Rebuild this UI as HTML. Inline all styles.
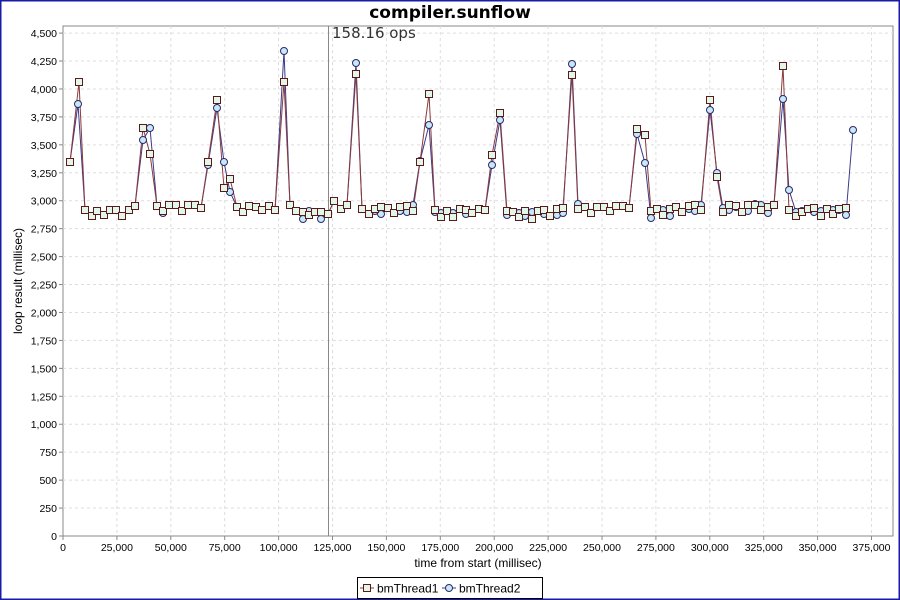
<!DOCTYPE html>
<html><head><meta charset="utf-8"><style>
html,body{margin:0;padding:0;background:#fff}
svg{display:block;font-family:"Liberation Sans",sans-serif}
</style></head><body>
<svg id="c" width="900" height="600" viewBox="0 0 900 600" xmlns="http://www.w3.org/2000/svg">
<rect x="0.5" y="0.5" width="899" height="599" fill="#fff" stroke="#1a1aa8" stroke-width="2"/>
<text x="450" y="18" text-anchor="middle" font-size="17" font-weight="bold" font-family="DejaVu Sans, sans-serif">compiler.sunflow</text>
<rect x="63" y="26" width="830" height="510" fill="#fff" stroke="#888" stroke-width="1"/>
<g id="grid"></g>
<line x1="328.5" y1="26" x2="328.5" y2="536" stroke="#888" stroke-width="1"/>
<text x="332" y="38" font-size="15" fill="#333" font-family="DejaVu Sans, sans-serif">158.16 ops</text>
<g id="ylab" font-size="10.5" text-anchor="end"></g>
<g id="xlab" font-size="10.5" text-anchor="middle"></g>
<text x="478" y="567" font-size="12" text-anchor="middle">time from start (millisec)</text>
<text transform="translate(22,281) rotate(-90)" font-size="12" text-anchor="middle">loop result (millisec)</text>
<g id="series"></g>
<rect x="357.5" y="577.5" width="185" height="21" fill="#fff" stroke="#000"/>
<line x1="360" y1="588" x2="374" y2="588" stroke="#8b3a3a"/>
<rect x="363.5" y="584.5" width="7" height="7" fill="#e2f6ea" stroke="#5a1a1a"/>
<text x="377" y="592.5" font-size="12">bmThread1</text>
<line x1="442" y1="588" x2="456" y2="588" stroke="#3a3a8a"/>
<circle cx="449" cy="588" r="3.5" fill="#c8e8f8" stroke="#2a2a6a"/>
<text x="459" y="592.5" font-size="12">bmThread2</text>
</svg>
<script>
const NS="http://www.w3.org/2000/svg";
function el(t,a,p){const e=document.createElementNS(NS,t);for(const k in a)e.setAttribute(k,a[k]);p.appendChild(e);return e;}
const g=document.getElementById('grid'),yl=document.getElementById('ylab'),xl=document.getElementById('xlab');
for(let i=0;i<=18;i++){const y=536-i*27.94;
 if(i>0)el('line',{x1:63,x2:893,y1:y,y2:y,stroke:'#ddd','stroke-dasharray':'3,3'},g);
 el('line',{x1:59,x2:63,y1:y,y2:y,stroke:'#888'},g);
 const t=el('text',{x:57,y:y+4},yl);t.textContent=(i*250).toLocaleString('en-US');}
for(let i=0;i<=15;i++){const x=63+i*53.9;
 if(i>0)el('line',{x1:x,x2:x,y1:26,y2:536,stroke:'#ddd','stroke-dasharray':'3,3'},g);
 el('line',{x1:x,x2:x,y1:536,y2:540,stroke:'#888'},g);
 const t=el('text',{x:x,y:551},xl);t.textContent=(i*25000).toLocaleString('en-US');}
const S=[[70,162],[79,82],[85,210],[92,216],[97,211],[104,215],[110,210],[116,210],[122,216],[129,210],[135,206],[143,128],[150,154],[157,206],[163,211],[169,205],[176,205],[182,211],[188,205],[195,205],[201,208],[208,162],[217,100],[224,188],[230,179],[237,207],[243,212],[249,206],[256,207],[262,210],[269,206],[275,210],[284,82],[290,205],[296,211],[303,212],[309,215],[315,212],[321,212],[328,214],[334,201],[341,209],[347,205],[356,74],[362,209],[369,214],[375,209],[381,207],[388,208],[394,213],[400,207],[407,206],[413,211],[420,162],[429,94],[435,210],[441,217],[447,211],[453,217],[460,209],[466,210],[472,213],[479,209],[485,210],[492,155],[500,113],[507,211],[513,212],[519,217],[525,211],[532,219],[538,211],[544,210],[550,216],[557,209],[563,208],[572,75],[578,209],[585,207],[591,213],[597,207],[604,207],[610,211],[616,206],[623,206],[629,208],[637,129],[645,135],[651,211],[657,209],[663,215],[670,209],[676,207],[682,212],[689,206],[695,205],[701,210],[710,100],[717,177],[723,212],[729,205],[736,206],[742,212],[748,205],[755,205],[761,210],[768,207],[774,205],[783,66],[789,210],[796,216],[802,212],[808,209],[814,208],[821,216],[827,209],[833,214],[839,209],[846,208]];
const O={78:104,91:209,143:140,150:128,163:213,208:165,217:108,224:162,230:192,284:51,303:219,309:211,321:219,356:63,375:211,381:214,400:211,407:212,413:205,420:161,429:125,435:212,441:213,453:213,466:214,485:210,492:165,500:120,507:215,519:213,525:216,532:212,544:214,557:215,563:213,572:64,578:204,637:134,645:163,651:218,663:210,670:216,689:209,695:211,701:205,710:110,717:173,723:208,729:210,736:207,742:212,748:211,755:204,761:205,768:213,783:99,789:190,796:212,802:211,814:212,821:211,833:210,839:210,846:215};
const C=S.map(([x,y])=>{let k=x;if(x==79)k=78;return [k==78?78:x, O[k]!==undefined?O[k]:y];});
C.push([853,130]);
const sg=document.getElementById('series');
el('polyline',{points:C.map(p=>p.join(',')).join(' '),fill:'none',stroke:'#3a3a8a','stroke-width':1},sg);
el('polyline',{points:S.map(p=>p.join(',')).join(' '),fill:'none',stroke:'#8b3a3a','stroke-width':1},sg);
C.forEach(([x,y])=>el('circle',{cx:x,cy:y,r:3.5,fill:'#c8e8f8',stroke:'#2a2a6a','stroke-width':1},sg));
S.forEach(([x,y])=>el('rect',{x:x-3.5,y:y-3.5,width:7,height:7,fill:'#e2f6ea',stroke:'#5a1a1a','stroke-width':1},sg));
</script>
</body></html>
